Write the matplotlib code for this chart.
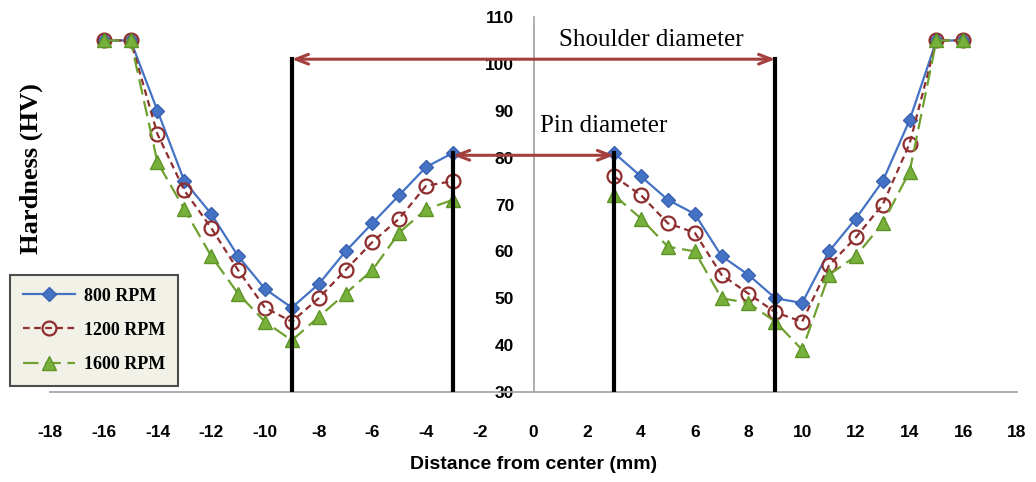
import numpy as np
import matplotlib.pyplot as plt

# ------ dados
dist = [-16, -15, -14, -13, -12, -11, -10, -9, -8, -7, -6, -5, -4, -3,
        3, 4, 5, 6, 7, 8, 9, 10, 11, 12, 13, 14, 15, 16]

rpm800 = [105, 105, 90, 75, 68, 59, 52, 48, 53, 60, 66, 72, 78, 81,
          81, 76, 71, 68, 59, 55, 50, 49, 60, 67, 75, 88, 105, 105]
rpm1200 = [105, 105, 85, 73, 65, 56, 48, 45, 50, 56, 62, 67, 74, 75,
           76, 72, 66, 64, 55, 51, 47, 45, 57, 63, 70, 83, 105, 105]
rpm1600 = [105, 105, 79, 69, 59, 51, 45, 41, 46, 51, 56, 64, 69, 71,
           72, 67, 61, 60, 50, 49, 45, 39, 55, 59, 66, 77, 105, 105]

shoulder = [-9, 9]
pin = [-3, 3]
shoulder_top = 101
pin_top = 81

xticks = list(range(-18, 19, 2))
yticks = list(range(30, 111, 10))

# ------ figura

fig = plt.figure(figsize=(10.36, 4.82), dpi=100)
ax = fig.add_axes([0.0483, 0.1867, 0.9334, 0.778])

# eixo y passa pelo zero (antes de mexer nos rótulos)
for s in ['top', 'right']:
    ax.spines[s].set_visible(False)
ax.spines['left'].set_position(('data', 0))
ax.spines['left'].set_color('#A8A8A8')
ax.spines['bottom'].set_color('#A8A8A8')
ax.spines['left'].set_linewidth(1.3)
ax.spines['bottom'].set_linewidth(1.3)

x = np.array(dist, dtype=float)
# separa os dois lados (sem medidas entre -3 e 3)
def lado(v):
    v = np.array(v, dtype=float)
    return np.insert(v, 14, np.nan)
xs = np.insert(x, 14, np.nan)

ax.plot(xs, lado(rpm800), color='#4472C4', lw=1.6, marker='D', ms=7,
        mfc='#4472C4', mec='#3A62B0', label='800 RPM', zorder=3)
ax.plot(xs, lado(rpm1200), color='#8E2E2E', lw=1.6, ls=(0, (3, 2)), marker='o', ms=10,
        mfc='none', mec='#8E2E2E', mew=1.6, label='1200 RPM', zorder=4)
ax.plot(xs, lado(rpm1600), color='#6FA030', lw=1.6, ls=(0, (7, 3)), marker='^', ms=10,
        mfc='#77B03A', mec='#5E9428', label='1600 RPM', zorder=5)

# linhas do ombro e do pino
for xv in shoulder:
    ax.plot([xv, xv], [30, shoulder_top], color='black', lw=3, zorder=6)
for xv in pin:
    ax.plot([xv, xv], [30, pin_top], color='black', lw=3, zorder=6)

seta = dict(arrowstyle='<->,head_length=0.9,head_width=0.35', color='#A3403E', lw=2.2,
            shrinkA=0, shrinkB=0)
ax.annotate('', xy=(shoulder[0], shoulder_top), xytext=(shoulder[1], shoulder_top),
            arrowprops=seta, zorder=7)
ax.annotate('', xy=(pin[0], 80.5), xytext=(pin[1], 80.5), arrowprops=seta, zorder=7)

ax.text(4.4, 105.2, 'Shoulder diameter', family='Liberation Serif', fontsize=18,
        ha='center', va='center')
ax.text(2.6, 86.7, 'Pin diameter', family='Liberation Serif', fontsize=18,
        ha='center', va='center')

ax.set_xlim(-18, 18)
ax.set_ylim(30, 110)
ax.set_xticks(xticks)
ax.set_yticks(yticks)
ax.set_xticklabels([str(t) for t in xticks], family='Liberation Sans', fontweight='bold', fontsize=12.5)
ax.set_yticklabels([str(t) for t in yticks], family='Liberation Sans', fontweight='bold', fontsize=12.5)
ax.tick_params(axis='x', length=0, pad=24)
ax.tick_params(axis='y', length=0, pad=14)

ax.set_xlabel('Distance from center (mm)', family='Liberation Sans', fontweight='bold',
              fontsize=14, labelpad=11)
fig.text(0.03, 0.65, 'Hardness (HV)', family='Liberation Serif', fontweight='bold',
         fontsize=19, rotation=90, ha='center', va='center')

leg = ax.legend(loc='upper left', bbox_to_anchor=(10 / 1036, 1 - 275 / 482),
                bbox_transform=fig.transFigure, borderaxespad=0,
                prop={'family': 'Liberation Serif', 'weight': 'bold', 'size': 13},
                frameon=True, fancybox=False, borderpad=0.7, labelspacing=0.95,
                handlelength=2.9, handletextpad=0.5, edgecolor='#222222')
leg.get_frame().set_facecolor('#EEEEE2')
leg.get_frame().set_linewidth(1.5)
leg.set_zorder(10)

fig.savefig('out.png', dpi=100)
